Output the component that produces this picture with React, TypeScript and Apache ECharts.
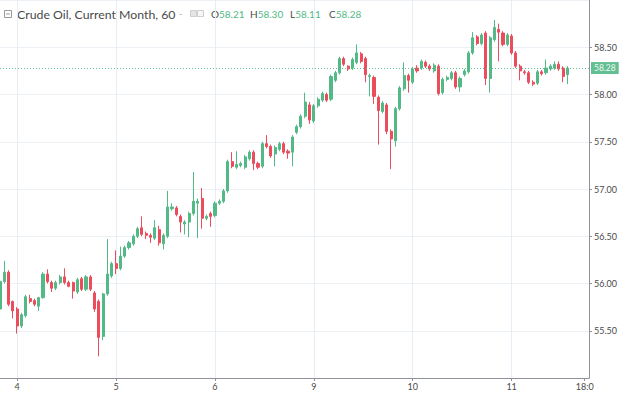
import React, { useEffect, useRef } from "react";
import * as echarts from "echarts";

// Hourly candles: [open, close, low, high]
const candles: [number, number, number, number][] = [
  [55.73, 56.02, 55.70, 56.06],
  [56.02, 56.12, 56.00, 56.24],
  [56.12, 55.78, 55.76, 56.14],
  [55.81, 55.71, 55.63, 55.82],
  [55.73, 55.55, 55.47, 55.75],
  [55.55, 55.67, 55.53, 55.69],
  [55.66, 55.86, 55.64, 55.88],
  [55.84, 55.81, 55.79, 55.88],
  [55.82, 55.78, 55.76, 55.84],
  [55.76, 55.85, 55.71, 55.86],
  [55.85, 56.10, 55.84, 56.12],
  [56.10, 56.02, 56.00, 56.15],
  [56.01, 55.95, 55.91, 56.03],
  [55.95, 56.01, 55.93, 56.03],
  [56.01, 56.07, 55.99, 56.09],
  [56.07, 56.01, 55.99, 56.16],
  [56.01, 55.97, 55.96, 56.03],
  [56.01, 55.92, 55.84, 56.02],
  [55.91, 56.04, 55.89, 56.06],
  [56.05, 55.94, 55.92, 56.07],
  [55.94, 56.07, 55.92, 56.09],
  [56.07, 55.94, 55.92, 56.09],
  [55.90, 55.73, 55.70, 55.92],
  [55.81, 55.43, 55.23, 55.83],
  [55.44, 55.89, 55.40, 55.90],
  [55.89, 56.10, 55.87, 56.47],
  [56.08, 56.21, 56.06, 56.23],
  [56.21, 56.16, 56.10, 56.35],
  [56.16, 56.29, 56.14, 56.39],
  [56.29, 56.38, 56.27, 56.40],
  [56.38, 56.43, 56.36, 56.45],
  [56.42, 56.50, 56.40, 56.52],
  [56.50, 56.58, 56.48, 56.60],
  [56.59, 56.52, 56.50, 56.71],
  [56.53, 56.51, 56.47, 56.55],
  [56.51, 56.49, 56.43, 56.53],
  [56.48, 56.59, 56.46, 56.67],
  [56.57, 56.43, 56.40, 56.61],
  [56.42, 56.51, 56.36, 56.53],
  [56.50, 56.81, 56.48, 56.98],
  [56.79, 56.81, 56.77, 56.85],
  [56.80, 56.73, 56.71, 56.82],
  [56.71, 56.65, 56.54, 56.73],
  [56.63, 56.65, 56.52, 56.67],
  [56.65, 56.74, 56.49, 56.76],
  [56.74, 56.87, 56.72, 57.18],
  [56.85, 56.87, 56.48, 56.90],
  [56.90, 56.69, 56.58, 57.01],
  [56.69, 56.71, 56.67, 56.73],
  [56.74, 56.71, 56.60, 56.76],
  [56.72, 56.85, 56.70, 56.87],
  [56.85, 56.87, 56.83, 56.89],
  [56.87, 56.98, 56.85, 57.00],
  [56.98, 57.29, 56.96, 57.31],
  [57.29, 57.24, 57.22, 57.39],
  [57.23, 57.26, 57.21, 57.40],
  [57.25, 57.27, 57.23, 57.29],
  [57.23, 57.34, 57.21, 57.36],
  [57.32, 57.39, 57.30, 57.41],
  [57.39, 57.27, 57.20, 57.41],
  [57.27, 57.23, 57.21, 57.29],
  [57.24, 57.48, 57.22, 57.50],
  [57.48, 57.45, 57.43, 57.57],
  [57.45, 57.35, 57.33, 57.47],
  [57.37, 57.44, 57.24, 57.46],
  [57.42, 57.48, 57.40, 57.50],
  [57.48, 57.39, 57.37, 57.50],
  [57.40, 57.38, 57.32, 57.42],
  [57.39, 57.55, 57.24, 57.57],
  [57.60, 57.66, 57.58, 57.68],
  [57.66, 57.77, 57.64, 57.79],
  [57.77, 57.92, 57.75, 58.02],
  [57.89, 57.73, 57.69, 57.92],
  [57.72, 57.88, 57.70, 57.90],
  [57.88, 57.95, 57.86, 57.97],
  [57.94, 58.01, 57.92, 58.03],
  [58.00, 57.94, 57.92, 58.02],
  [57.95, 58.19, 57.93, 58.21],
  [58.15, 58.23, 58.13, 58.25],
  [58.23, 58.38, 58.21, 58.40],
  [58.38, 58.32, 58.30, 58.40],
  [58.30, 58.27, 58.25, 58.31],
  [58.28, 58.37, 58.26, 58.39],
  [58.34, 58.44, 58.32, 58.53],
  [58.43, 58.35, 58.33, 58.45],
  [58.38, 58.21, 58.13, 58.40],
  [58.19, 58.20, 57.98, 58.22],
  [58.18, 57.98, 57.90, 58.20],
  [57.97, 57.83, 57.47, 57.99],
  [57.82, 57.91, 57.80, 57.93],
  [57.89, 57.61, 57.58, 57.91],
  [57.61, 57.53, 57.21, 57.63],
  [57.51, 57.85, 57.45, 57.87],
  [57.85, 58.07, 57.83, 58.09],
  [58.06, 58.20, 58.04, 58.34],
  [58.20, 58.15, 58.02, 58.22],
  [58.13, 58.27, 58.11, 58.29],
  [58.28, 58.25, 58.23, 58.31],
  [58.28, 58.35, 58.26, 58.37],
  [58.34, 58.30, 58.28, 58.36],
  [58.30, 58.27, 58.25, 58.32],
  [58.25, 58.31, 58.23, 58.33],
  [58.30, 58.01, 57.99, 58.32],
  [58.02, 58.16, 58.00, 58.18],
  [58.16, 58.18, 58.14, 58.20],
  [58.17, 58.23, 58.15, 58.25],
  [58.23, 58.08, 58.06, 58.25],
  [58.08, 58.17, 58.03, 58.19],
  [58.21, 58.25, 58.19, 58.27],
  [58.24, 58.44, 58.22, 58.46],
  [58.44, 58.60, 58.42, 58.66],
  [58.61, 58.54, 58.52, 58.63],
  [58.54, 58.63, 58.52, 58.65],
  [58.65, 58.17, 58.10, 58.67],
  [58.17, 58.60, 58.02, 58.62],
  [58.58, 58.71, 58.56, 58.79],
  [58.69, 58.66, 58.35, 58.75],
  [58.65, 58.53, 58.51, 58.67],
  [58.53, 58.63, 58.51, 58.65],
  [58.62, 58.44, 58.42, 58.64],
  [58.44, 58.30, 58.28, 58.46],
  [58.30, 58.25, 58.15, 58.32],
  [58.24, 58.23, 58.21, 58.26],
  [58.23, 58.13, 58.11, 58.25],
  [58.13, 58.11, 58.09, 58.15],
  [58.12, 58.24, 58.10, 58.26],
  [58.24, 58.22, 58.20, 58.26],
  [58.23, 58.28, 58.21, 58.37],
  [58.27, 58.30, 58.25, 58.32],
  [58.28, 58.32, 58.26, 58.35],
  [58.32, 58.27, 58.25, 58.35],
  [58.28, 58.19, 58.13, 58.30],
  [58.21, 58.28, 58.11, 58.30],
];

// Hour slots on the time axis (including empty room on the right)
const slotCount = 138;
const categories: string[] = Array.from({ length: slotCount }, (_, i) => `h${i}`);
// Time-axis ticks: slot index and its label
const tickSlots = [4, 27, 50, 73, 96, 119, 136];
const tickLabels = ["4", "5", "6", "9", "10", "11", "18:0"];
const daySlots = [4, 27, 50, 73, 96, 119];

// Price axis
const priceMin = 55;
const priceMax = 59;
const priceStep = 0.5;
const lastPrice = 58.28;

// Header
const headerTitle = "Crude Oil, Current Month, 60";
const ohlcLetters = ["O", "H", "L", "C"];
const ohlcValues = ["58.21", "58.30", "58.11", "58.28"];

const UP = "#53b987";
const DOWN = "#eb4d5c";
const TEXT = "#4a4a4a";
const AXIS = "#8f929a";

export default function App() {
  const ref = useRef<HTMLDivElement>(null);
  useEffect(() => {
    if (!ref.current) return;
    const chart = echarts.init(ref.current, undefined, { renderer: "svg" });

    const headerFont = "Lato, 'DejaVu Sans', sans-serif";
    const ohlcX = [211, 250, 290, 329];
    const headerGraphics: any[] = [
      {
        type: "rect",
        shape: { x: 4.5, y: 10.5, width: 7, height: 7 },
        style: { fill: "#fff", stroke: "#9a9a9a", lineWidth: 1 },
      },
      {
        type: "line",
        shape: { x1: 6, y1: 14, x2: 10, y2: 14 },
        style: { stroke: "#9a9a9a", lineWidth: 1 },
      },
      {
        type: "text",
        x: 17,
        y: 14,
        style: {
          text: headerTitle,
          fill: TEXT,
          font: `12.3px ${headerFont}`,
          verticalAlign: "middle",
        },
      },
      {
        type: "text",
        x: 179,
        y: 13,
        style: { text: "-", fill: "#aaa", font: `9px ${headerFont}`, verticalAlign: "middle" },
      },
      {
        type: "rect",
        shape: { x: 190.5, y: 10.5, width: 6, height: 6 },
        style: { fill: "#e4e4e4", stroke: "#cfcfcf", lineWidth: 1 },
      },
      {
        type: "rect",
        shape: { x: 197.5, y: 10.5, width: 6, height: 6 },
        style: { fill: "#f6f6f6", stroke: "#cfcfcf", lineWidth: 1 },
      },
    ];
    ohlcLetters.forEach((l, i) => {
      headerGraphics.push({
        type: "text",
        x: ohlcX[i],
        y: 14,
        style: {
          text: `{l|${l}}{v|${ohlcValues[i]}}`,
          verticalAlign: "middle",
          rich: {
            l: { fill: TEXT, fontSize: 10, fontFamily: headerFont },
            v: { fill: UP, fontSize: 10, fontFamily: headerFont },
          },
        },
      });
    });

    chart.setOption({
      animation: false,
      backgroundColor: "#ffffff",
      textStyle: { fontFamily: "Lato, 'DejaVu Sans', sans-serif" },
      grid: { left: 0, right: 30.9, top: 0, bottom: 15, containLabel: false },
      xAxis: {
        type: "category",
        data: categories,
        boundaryGap: false,
        axisLine: { show: true, lineStyle: { color: AXIS, width: 1 } },
        axisTick: {
          show: true,
          length: 3,
          interval: (i: number) => tickSlots.includes(i),
          lineStyle: { color: AXIS },
        },
        axisLabel: {
          show: true,
          interval: (i: number) => tickSlots.includes(i),
          formatter: (_v: string, i: number) => {
            const k = tickSlots.indexOf(i);
            return k >= 0 ? tickLabels[k] : "";
          },
          fontSize: 9,
          color: TEXT,
          margin: 4,
        },
        splitLine: {
          show: true,
          interval: (i: number) => daySlots.includes(i),
          lineStyle: { color: "#e7edf5", width: 1 },
        },
      },
      yAxis: {
        type: "value",
        position: "right",
        min: priceMin,
        max: priceMax,
        interval: priceStep,
        axisLine: { show: true, lineStyle: { color: AXIS, width: 1 } },
        axisTick: { show: true, length: 3, lineStyle: { color: AXIS } },
        axisLabel: {
          show: true,
          formatter: (v: number) => v.toFixed(2),
          fontSize: 9,
          color: TEXT,
          margin: 5,
          showMinLabel: false,
          showMaxLabel: false,
        },
        splitLine: { show: true, lineStyle: { color: "#edf0f5", width: 1 } },
      },
      series: [
        {
          type: "candlestick",
          data: candles.map((c) => [c[0], c[1], c[2], c[3]]),
          barWidth: 2.6,
          itemStyle: {
            color: UP,
            color0: DOWN,
            borderColor: UP,
            borderColor0: DOWN,
            borderWidth: 1,
          },
          markLine: {
            silent: true,
            symbol: ["none", "none"],
            data: [{ yAxis: lastPrice }],
            lineStyle: { color: UP, type: [1, 2], width: 1, opacity: 0.9 },
            label: {
              show: true,
              position: "end",
              formatter: lastPrice.toFixed(2),
              color: "#ffffff",
              backgroundColor: UP,
              padding: [2, 3, 1, 3],
              fontSize: 8.5,
              distance: 2,
            },
          },
        },
      ],
      graphic: headerGraphics,
    });
    return () => chart.dispose();
  }, []);
  return (
    <div
      ref={ref}
      style={{ position: "fixed", left: 0, top: 0, width: 620, height: 393, background: "#fff" }}
    />
  );
}
